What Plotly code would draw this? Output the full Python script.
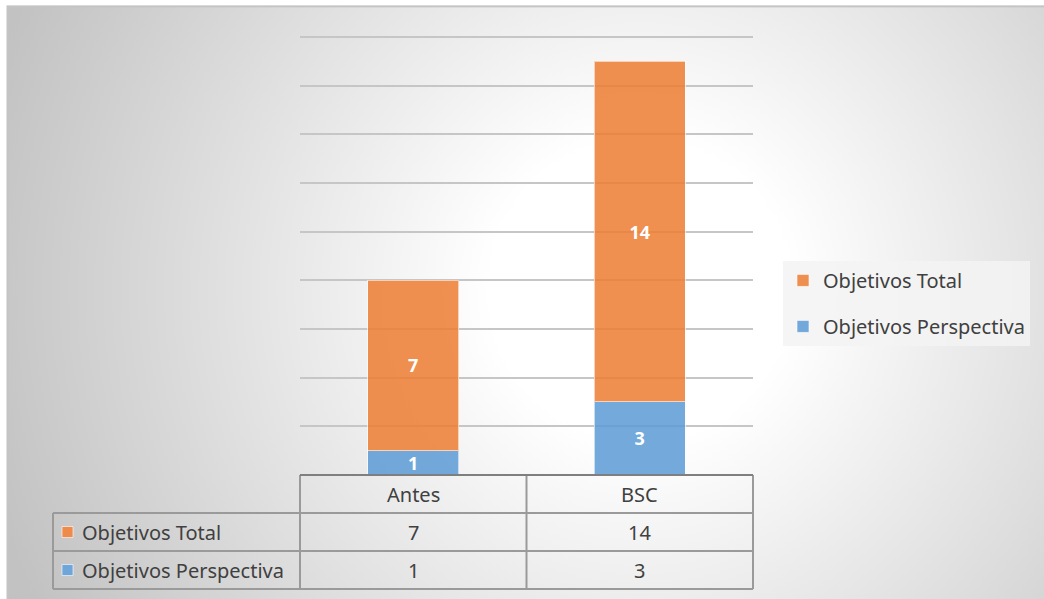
import plotly.graph_objects as go
import base64

categories = ["Antes", "BSC"]
series_names = ["Objetivos Perspectiva", "Objetivos Total"]
perspectiva = [1, 3]
total = [7, 14]
series_values = [perspectiva, total]
legend_ranks = [2, 1]
colors = ["rgba(91,155,213,0.85)", "rgba(237,125,49,0.85)"]
key_colors = ["#6fa6da", "#ee8a4a"]
y_max = 18

W, H = 1044, 599
unit = 438 / y_max
B = 475
L, R = 300, 753
T = B - (y_max + 0.2) * unit
pw, ph = R - L, B - T

def px_x(x):
    return (x - L) / pw

def px_y(y):
    return (B - y) / ph

fig = go.Figure()
for name, vals, col, rk in zip(series_names, series_values, colors, legend_ranks):
    fig.add_trace(go.Bar(
        x=categories, y=vals, name=name,
        marker=dict(color=col, line=dict(color="rgba(255,255,255,0.6)", width=1)),
        text=[str(v) for v in vals], textposition="inside", insidetextanchor="middle",
        textfont=dict(color="white", size=18, family="Noto Sans"),
        texttemplate="<b>%{text}</b>", textangle=0, constraintext="none",
        width=0.4, legendgroup=name, legendrank=rk,
    ))

svg = f'''<svg xmlns="http://www.w3.org/2000/svg" width="{W}" height="{H}">
<defs><radialGradient id="g" gradientUnits="userSpaceOnUse" cx="640" cy="290" r="680">
<stop offset="0" stop-color="#ffffff"/><stop offset="0.22" stop-color="#ffffff"/>
<stop offset="1" stop-color="#c2c2c2"/></radialGradient></defs>
<rect x="0" y="0" width="{W}" height="{H}" fill="#ffffff"/>
<rect x="7.5" y="6.5" width="{W}" height="{H}" fill="url(#g)" stroke="#c4c4c4" stroke-width="2"/>
</svg>'''
src = "data:image/svg+xml;base64," + base64.b64encode(svg.encode()).decode()

fig.add_layout_image(dict(
    source=src, xref="paper", yref="paper",
    x=px_x(0), y=px_y(0), sizex=W / pw, sizey=H / ph,
    xanchor="left", yanchor="top", sizing="stretch", layer="below",
))

shapes = []
line_col = "#9a9a9a"
row_h = 38
rows_y = [B, B + row_h, B + 2 * row_h, B + 3 * row_h]
col_x = [53, L, (L + R) / 2, R]
for yy in rows_y[1:]:
    shapes.append(dict(type="line", xref="paper", yref="paper",
                       x0=px_x(col_x[0]), x1=px_x(R), y0=px_y(yy), y1=px_y(yy),
                       line=dict(color=line_col, width=2)))
for xx in col_x[1:]:
    shapes.append(dict(type="line", xref="paper", yref="paper",
                       x0=px_x(xx), x1=px_x(xx), y0=px_y(B), y1=px_y(rows_y[3]),
                       line=dict(color=line_col, width=2)))
shapes.append(dict(type="line", xref="paper", yref="paper",
                   x0=px_x(col_x[0]), x1=px_x(col_x[0]), y0=px_y(rows_y[1]), y1=px_y(rows_y[3]),
                   line=dict(color=line_col, width=2)))
shapes.append(dict(type="line", xref="paper", yref="paper",
                   x0=0, x1=1, y0=0, y1=0, line=dict(color="#7f7f7f", width=2)))

annotations = []
tfont = dict(family="Noto Sans", size=20, color="#404040")
for j, c in enumerate(categories):
    cx = (col_x[1 + j] + col_x[2 + j]) / 2
    annotations.append(dict(text=c, xref="paper", yref="paper", x=px_x(cx),
                            y=px_y(B + row_h / 2), xanchor="center", yanchor="middle",
                            showarrow=False, font=tfont))
table_rows = [("Objetivos Total", total, key_colors[1]), ("Objetivos Perspectiva", perspectiva, key_colors[0])]
for i, (name, vals, kc) in enumerate(table_rows):
    ymid = B + row_h * (i + 1) + row_h / 2
    shapes.append(dict(type="rect", xref="paper", yref="paper",
                       x0=px_x(62), x1=px_x(73), y0=px_y(ymid - 5.5), y1=px_y(ymid + 5.5),
                       fillcolor=kc, line=dict(color="rgba(255,255,255,0.6)", width=1)))
    annotations.append(dict(text=name, xref="paper", yref="paper", x=px_x(80),
                            y=px_y(ymid), xanchor="left", yanchor="middle",
                            showarrow=False, font=tfont))
    for j, v in enumerate(vals):
        cx = (col_x[1 + j] + col_x[2 + j]) / 2
        annotations.append(dict(text=str(v), xref="paper", yref="paper", x=px_x(cx),
                                y=px_y(ymid), xanchor="center", yanchor="middle",
                                showarrow=False, font=tfont))

fig.update_layout(
    width=W, height=H,
    margin=dict(l=L, r=W - R, t=T, b=H - B, pad=0),
    barmode="stack",
    paper_bgcolor="rgba(0,0,0,0)", plot_bgcolor="rgba(0,0,0,0)",
    xaxis=dict(showticklabels=False, showgrid=False, zeroline=False, showline=False,
               range=[-0.5, 1.5], fixedrange=True),
    yaxis=dict(range=[0, y_max + 0.2], dtick=2, showticklabels=False, showgrid=True,
               gridcolor="#c6c6c6", gridwidth=1.5, zeroline=False, showline=False),
    legend=dict(x=px_x(783), y=px_y(261), xanchor="left", yanchor="top",
                bgcolor="rgba(243,243,243,0.85)", traceorder="grouped",
                font=dict(family="Noto Sans", size=20, color="#404040"),
                tracegroupgap=17, itemwidth=30),
    shapes=shapes, annotations=annotations,
    showlegend=True,
)

fig.write_html("out.html")
